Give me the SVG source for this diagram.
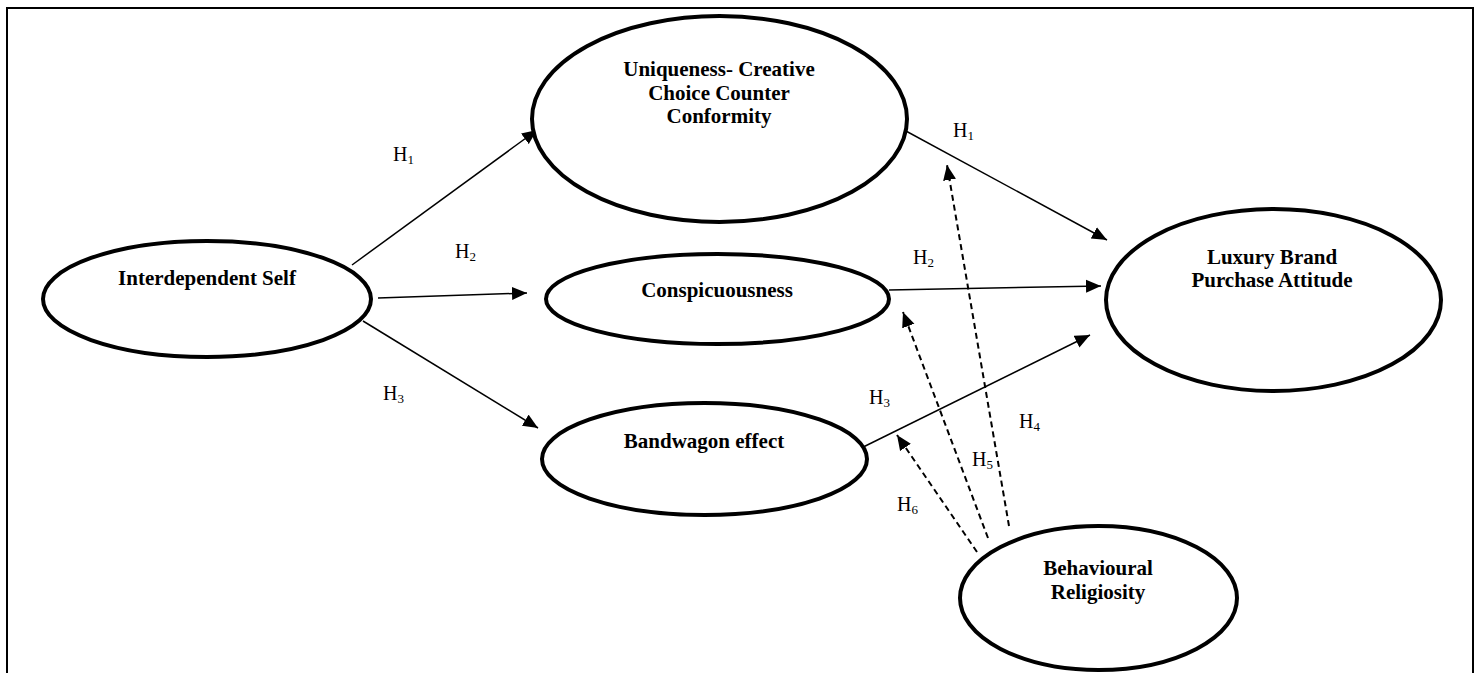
<svg xmlns="http://www.w3.org/2000/svg" width="1481" height="673" viewBox="0 0 1481 673">
<style>
.node{fill:#fff;stroke:#000;stroke-width:4}
.nt{font-family:"Liberation Serif","Times New Roman",serif;font-weight:bold;font-size:21px;text-anchor:middle;fill:#000}
.lbl{font-family:"Liberation Serif","Times New Roman",serif;font-size:20px;fill:#000}
.sub{font-size:13px}
.c{stroke:#000;stroke-width:1.5;fill:none;marker-end:url(#ah)}
.d{stroke:#000;stroke-width:2;fill:none;stroke-dasharray:6 4;marker-end:url(#ah)}
</style>
<defs>
<marker id="ah" markerUnits="userSpaceOnUse" markerWidth="16" markerHeight="14" refX="15" refY="7" orient="auto">
<path d="M0,0.5 L15,7 L0,13.5 z" fill="#000" stroke="none"/>
</marker>
</defs>
<rect x="7" y="8" width="1466" height="700" fill="none" stroke="#000" stroke-width="2"/>
<g id="connectors">
<line class="c" x1="352" y1="265" x2="537" y2="130"/>
<line class="c" x1="378" y1="298" x2="527" y2="293"/>
<line class="c" x1="363" y1="321" x2="538" y2="428"/>
<line class="c" x1="893" y1="124" x2="1107" y2="240"/>
<line class="c" x1="889" y1="290" x2="1101" y2="286"/>
<line class="c" x1="843" y1="457" x2="1090" y2="335"/>
<line class="d" x1="1009" y1="526" x2="947" y2="165"/>
<line class="d" x1="988" y1="538" x2="903" y2="312"/>
<line class="d" x1="977" y1="552" x2="897" y2="435"/>
</g>
<g id="labels">
<text class="lbl" x="393" y="161">H<tspan class="sub" dy="3">1</tspan></text>
<text class="lbl" x="455" y="258">H<tspan class="sub" dy="3">2</tspan></text>
<text class="lbl" x="383" y="400">H<tspan class="sub" dy="3">3</tspan></text>
<text class="lbl" x="953" y="137">H<tspan class="sub" dy="3">1</tspan></text>
<text class="lbl" x="913" y="264">H<tspan class="sub" dy="3">2</tspan></text>
<text class="lbl" x="869" y="404">H<tspan class="sub" dy="3">3</tspan></text>
<text class="lbl" x="1019" y="428">H<tspan class="sub" dy="3">4</tspan></text>
<text class="lbl" x="972" y="466">H<tspan class="sub" dy="3">5</tspan></text>
<text class="lbl" x="897" y="511">H<tspan class="sub" dy="3">6</tspan></text>
</g>
<g id="interdependent">
<ellipse class="node" cx="207" cy="299" rx="164" ry="58"/>
<text class="nt" x="207" y="285">Interdependent Self</text>
</g>
<g id="uniqueness">
<ellipse class="node" cx="719.5" cy="119" rx="187.5" ry="103"/>
<text class="nt" x="719" y="76">Uniqueness- Creative</text>
<text class="nt" x="719" y="100">Choice Counter</text>
<text class="nt" x="719" y="123">Conformity</text>
</g>
<g id="conspicuousness">
<ellipse class="node" cx="717.5" cy="299" rx="171.5" ry="45"/>
<text class="nt" x="717" y="297">Conspicuousness</text>
</g>
<g id="bandwagon">
<ellipse class="node" cx="704.5" cy="459" rx="162.5" ry="56"/>
<text class="nt" x="704" y="448">Bandwagon effect</text>
</g>
<g id="luxury">
<ellipse class="node" cx="1273.5" cy="300" rx="167.5" ry="91"/>
<text class="nt" x="1272" y="264">Luxury Brand</text>
<text class="nt" x="1272" y="287">Purchase Attitude</text>
</g>
<g id="religiosity">
<ellipse class="node" cx="1098.5" cy="598" rx="138.5" ry="72"/>
<text class="nt" x="1098" y="575">Behavioural</text>
<text class="nt" x="1098" y="599">Religiosity</text>
</g>
</svg>
